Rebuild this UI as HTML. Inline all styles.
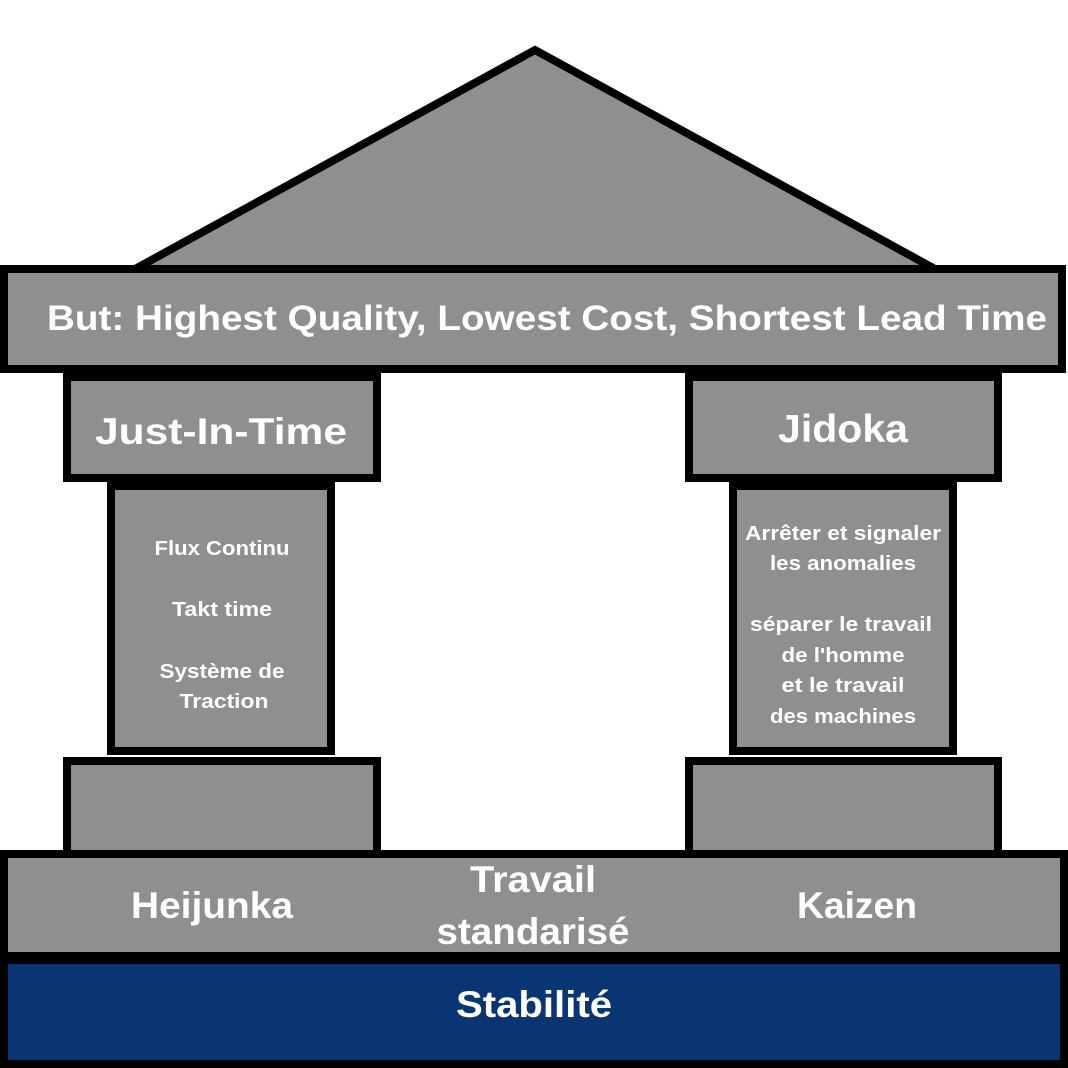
<!DOCTYPE html>
<html><head><meta charset="utf-8"><style>html,body{margin:0;padding:0;background:#fff}svg{display:block}text{font-family:"Liberation Sans",sans-serif;font-weight:bold;fill:#fff;text-anchor:middle}</style></head>
<body>
<svg width="1068" height="1068" viewBox="0 0 1068 1068" xmlns="http://www.w3.org/2000/svg">
<polygon points="135,269 535,50 935,269" fill="#8f8f8f" stroke="#000" stroke-width="8" stroke-linejoin="miter"/>
<g fill="#8f8f8f" stroke="#000" stroke-width="8">
<rect x="4" y="269" width="1058" height="100"/>
<rect x="67" y="377" width="310" height="101"/>
<rect x="111" y="486" width="220" height="265"/>
<rect x="67" y="761" width="310" height="94"/>
<rect x="689" y="377" width="309" height="101"/>
<rect x="733" y="486" width="220" height="265"/>
<rect x="689" y="761" width="309" height="94"/>
<rect x="4" y="854" width="1060" height="102"/>
</g>
<rect x="4" y="960" width="1060" height="104" fill="#0a3573" stroke="#000" stroke-width="8"/>
<text x="547" y="330" font-size="35" textLength="1000" lengthAdjust="spacingAndGlyphs">But: Highest Quality, Lowest Cost,  Shortest Lead Time</text>
<text x="221" y="444" font-size="37" textLength="252" lengthAdjust="spacingAndGlyphs">Just-In-Time</text>
<text x="843" y="442" font-size="39" textLength="130" lengthAdjust="spacingAndGlyphs">Jidoka</text>
<g font-size="20">
<text x="222" y="555" textLength="135" lengthAdjust="spacingAndGlyphs">Flux Continu</text>
<text x="222" y="616" textLength="100" lengthAdjust="spacingAndGlyphs">Takt time</text>
<text x="222" y="678" textLength="125" lengthAdjust="spacingAndGlyphs">Système de</text>
<text x="224" y="708" textLength="89" lengthAdjust="spacingAndGlyphs">Traction</text>
<text x="843" y="540" textLength="196" lengthAdjust="spacingAndGlyphs">Arrêter et signaler</text>
<text x="843" y="570" textLength="146" lengthAdjust="spacingAndGlyphs">les anomalies</text>
<text x="841" y="631" textLength="182" lengthAdjust="spacingAndGlyphs">séparer le travail</text>
<text x="843" y="662" textLength="123" lengthAdjust="spacingAndGlyphs">de l'homme</text>
<text x="843" y="692" textLength="123" lengthAdjust="spacingAndGlyphs">et le travail</text>
<text x="843" y="723" textLength="146" lengthAdjust="spacingAndGlyphs">des machines</text>
</g>
<g font-size="37">
<text x="212" y="918" textLength="162" lengthAdjust="spacingAndGlyphs">Heijunka</text>
<text x="533" y="892" textLength="126" lengthAdjust="spacingAndGlyphs">Travail</text>
<text x="533" y="944" textLength="193" lengthAdjust="spacingAndGlyphs">standarisé</text>
<text x="857" y="918" textLength="120" lengthAdjust="spacingAndGlyphs">Kaizen</text>
<text x="534" y="1017" textLength="156" lengthAdjust="spacingAndGlyphs">Stabilité</text>
</g>
</svg>
</body></html>
